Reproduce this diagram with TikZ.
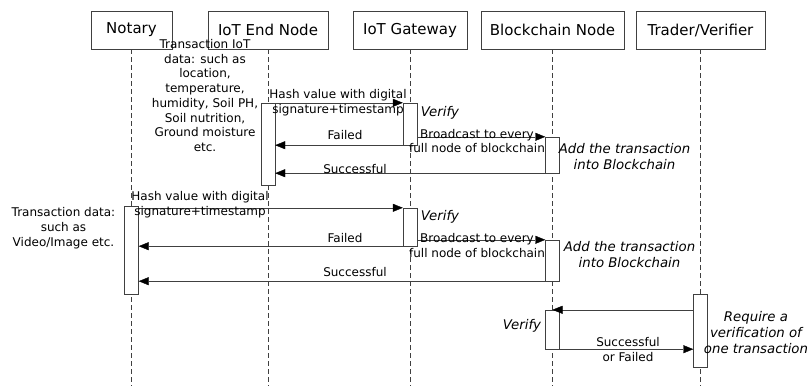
\documentclass[tikz,border=0pt]{standalone}
\usepackage{fontspec}
\setmainfont{DejaVu Sans}
\usetikzlibrary{arrows.meta}

\begin{document}
\begin{tikzpicture}[x=1pt,y=-1pt,>={Triangle[length=10pt,width=8pt,color=black]},
  actor node/.style={draw=black!75,fill=white,minimum width=#1,minimum height=38pt,inner sep=0pt,font=\fontsize{15}{18}\selectfont},
  act box/.style={draw=black!75,fill=white,minimum width=14pt,minimum height=#1,inner sep=0pt},
  life line/.style={black!75,dash pattern=on 5pt off 3pt},
  msg/.style={->,black!75},
  note/.style={align=center,inner sep=0pt,font=\fontsize{12}{14.7}\selectfont},
  act note/.style={align=center,inner sep=0pt,font=\fontsize{13.3}{16}\selectfont\itshape}]

  \useasboundingbox (0,0) rectangle (812,386);
  \coordinate (bottom) at (0,386);

  % actors
  \node[actor node=81pt] (notary) at (131.5,30) {Notary};
  \node[actor node=120pt] (endnode) at (268,30) {IoT End Node};
  \node[actor node=114pt] (gateway) at (410,30) {IoT Gateway};
  \node[actor node=143pt] (bcnode) at (552.5,30) {Blockchain Node};
  \node[actor node=129pt] (trader) at (700.5,30) {Trader/Verifier};

  \foreach \n in {notary,endnode,gateway,bcnode,trader}
    \draw[life line] (\n.south) -- (\n.south |- bottom);

  % activations
  \node[act box=82pt] (endact) at (endnode |- 0,144) {};
  \node[act box=42pt] (gwact1) at (gateway |- 0,124) {};
  \node[act box=36pt] (bcact1) at (bcnode |- 0,155) {};
  \node[act box=88pt] (notact) at (notary |- 0,250) {};
  \node[act box=38pt] (gwact2) at (gateway |- 0,227) {};
  \node[act box=41pt] (bcact2) at (bcnode |- 0,260.5) {};
  \node[act box=73pt] (tvact) at (trader |- 0,330.5) {};
  \node[act box=39pt] (bcact3) at (bcnode |- 0,329.5) {};

  % messages
  \draw[msg] (endact.north east) -- (gwact1.north west);
  \draw[msg] (gwact1.south west) -- (endact.east |- gwact1.south);
  \draw[msg] (gwact1.east |- bcact1.north) -- (bcact1.north west);
  \draw[msg] (bcact1.south west) -- (endact.east |- bcact1.south);

  \draw[msg] (notact.east |- gwact2.north) -- (gwact2.north west);
  \draw[msg] (gwact2.south west) -- (notact.east |- gwact2.south);
  \draw[msg] (gwact2.east |- bcact2.north) -- (bcact2.north west);
  \draw[msg] (bcact2.south west) -- (notact.east |- bcact2.south);

  \draw[msg] (tvact.west |- bcact3.north) -- (bcact3.north);
  \draw[msg] (bcact3.south east) -- (tvact.west |- bcact3.south);

  % labels
  \node[note] (iotdata) at (205,95.5) {Transaction IoT\\data: such as\\location,\\temperature,\\humidity, Soil PH,\\Soil nutrition,\\Ground moisture\\etc.};
  \node[note] (hash1) at (338,102.5) {Hash value with digital\\signature+timestamp};
  \node[note] (fail1) at (345,135) {Failed};
  \node[note] (succ1) at (355,169) {Successful};
  \node[act note] (verify1) at (440,113) {Verify};
  \node[note] (bcast1) at (477,141) {Broadcast to every\\full node of blockchain};
  \node[act note] (add1) at (624.5,157) {Add the transaction\\into Blockchain};

  \node[note] (vdata) at (63.5,228) {Transaction data:\\such as\\Video/Image etc.};
  \node[note] (hash2) at (200,205) {Hash value with digital\\signature+timestamp};
  \node[note] (fail2) at (345,238) {Failed};
  \node[note] (succ2) at (355,272) {Successful};
  \node[act note] (verify2) at (440,217) {Verify};
  \node[note] (bcast2) at (477,245.5) {Broadcast to every\\full node of blockchain};
  \node[act note] (add2) at (629.5,255) {Add the transaction\\into Blockchain};

  \node[act note] (verify3) at (522,326) {Verify};
  \node[note] (reply) at (628,349.5) {Successful\\or Failed};
  \node[act note] (require) at (756,333) {Require a\\verification of\\one transaction};

\end{tikzpicture}
\end{document}
